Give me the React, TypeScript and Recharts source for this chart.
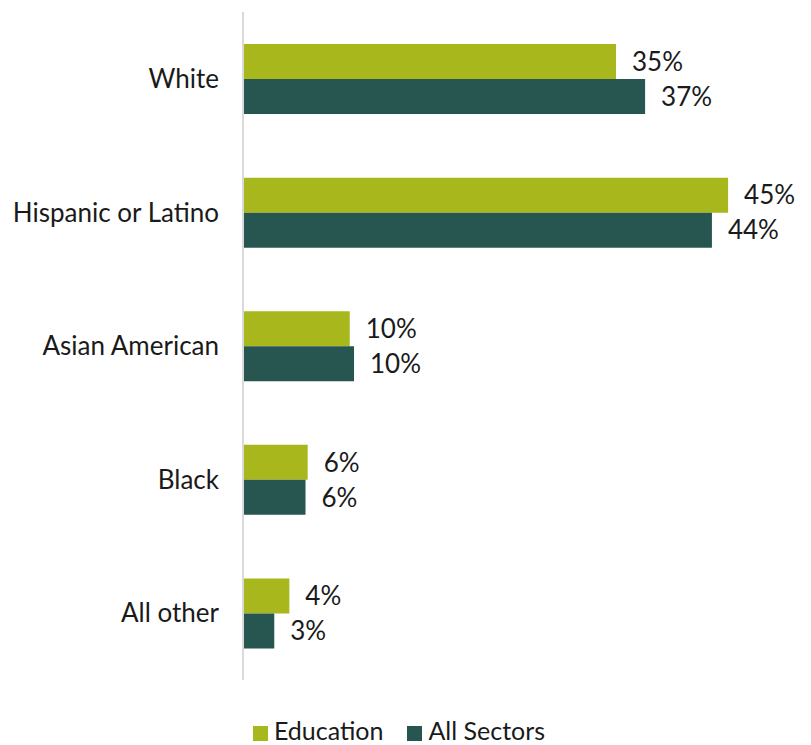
import { BarChart, Bar, XAxis, YAxis, Legend, LabelList } from "recharts";

const categories = ["White", "Hispanic or Latino", "Asian American", "Black", "All other"];
const education = [34.6, 45, 9.9, 6.0, 4.3];
const allSectors = [37.3, 43.5, 10.3, 5.8, 2.9];
const educationLabels = ["35%", "45%", "10%", "6%", "4%"];
const allSectorsLabels = ["37%", "44%", "10%", "6%", "3%"];
const seriesOrder = ["education", "allSectors"];

const data = categories.map((name, i) => ({
  name,
  education: education[i],
  allSectors: allSectors[i],
  educationLabel: educationLabels[i],
  allSectorsLabel: allSectorsLabels[i],
}));

const FONT = "Lato, 'DejaVu Sans', sans-serif";
const TEXT = "#1a1a1a";

export default function App() {
  return (
    <div style={{ fontFamily: FONT }}>
      <BarChart
        width={795}
        height={737}
        data={data}
        layout="vertical"
        barCategoryGap="24%"
        barGap={0}
        margin={{ top: 4, right: 21, left: 0, bottom: 35 }}
      >
        <XAxis type="number" domain={[0, 50]} hide />
        <YAxis
          type="category"
          dataKey="name"
          width={235}
          tickLine={false}
          axisLine={{ stroke: "#d9d9d9", strokeWidth: 2 }}
          tickMargin={18}
          tick={{ fill: TEXT, fontSize: 26, fontFamily: FONT }}
        />
        <Legend
          verticalAlign="bottom"
          iconType="square"
          iconSize={15}
          itemSorter={(item: any) => seriesOrder.indexOf(item.dataKey)}
          wrapperStyle={{ fontSize: 25, color: TEXT, bottom: 0, left: 9, lineHeight: "30px" }}
          formatter={(value, entry: any) => (
            <span
              style={{
                color: TEXT,
                marginLeft: 2,
                marginRight: entry.dataKey === "education" ? 14 : 0,
              }}
            >
              {value}
            </span>
          )}
        />
        <Bar dataKey="education" name="Education" fill="#a8b71b" isAnimationActive={false}>
          <LabelList
            dataKey="educationLabel"
            position="right"
            offset={16}
            style={{ fill: TEXT, fontSize: 26, fontFamily: FONT }}
          />
        </Bar>
        <Bar dataKey="allSectors" name="All Sectors" fill="#275651" isAnimationActive={false}>
          <LabelList
            dataKey="allSectorsLabel"
            position="right"
            offset={16}
            style={{ fill: TEXT, fontSize: 26, fontFamily: FONT }}
          />
        </Bar>
      </BarChart>
    </div>
  );
}
